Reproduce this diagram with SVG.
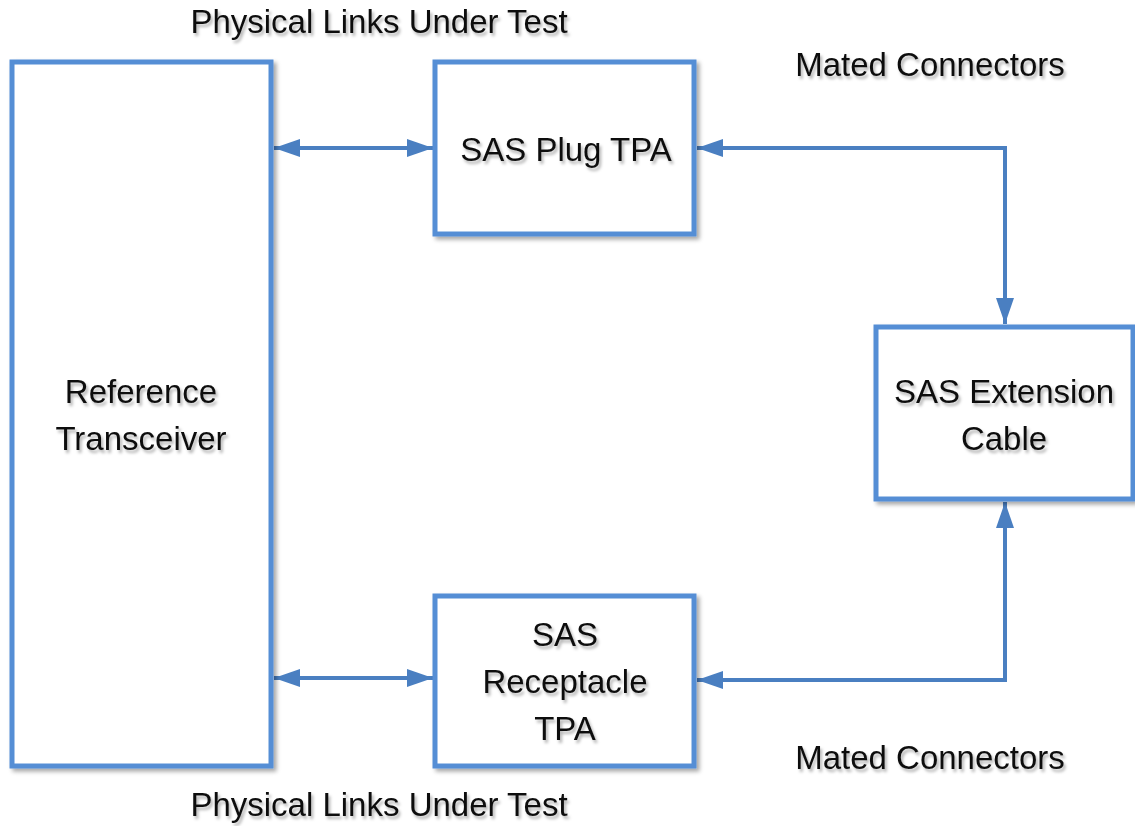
<svg xmlns="http://www.w3.org/2000/svg" width="1135" height="826" viewBox="0 0 1135 826">
<defs>
<filter id="sh" x="-10%" y="-10%" width="130%" height="130%">
<feGaussianBlur in="SourceAlpha" stdDeviation="2"/>
<feOffset dx="3" dy="3" result="b"/>
<feFlood flood-color="#000" flood-opacity="0.35"/>
<feComposite in2="b" operator="in"/>
<feMerge><feMergeNode/><feMergeNode in="SourceGraphic"/></feMerge>
</filter>
<filter id="tsh" x="-10%" y="-30%" width="130%" height="170%">
<feGaussianBlur in="SourceAlpha" stdDeviation="1.5"/>
<feOffset dx="2" dy="3" result="b"/>
<feFlood flood-color="#000" flood-opacity="0.3"/>
<feComposite in2="b" operator="in"/>
<feMerge><feMergeNode/><feMergeNode in="SourceGraphic"/></feMerge>
</filter>
<marker id="ah" viewBox="0 0 10 10" refX="10" refY="5" markerWidth="6.5" markerHeight="4.5" orient="auto-start-reverse" markerUnits="strokeWidth" preserveAspectRatio="none">
<path d="M0,0 L10,5 L0,10 z" fill="#4a7fc1"/>
</marker>
</defs>
<style>
.box{fill:#fff;stroke:#558ed5;stroke-width:5;filter:url(#sh)}
.t{font-family:"Liberation Sans",Arial,sans-serif;font-size:33px;fill:#111;text-anchor:middle;filter:url(#tsh)}
.c{fill:none;stroke:#4a7fc1;stroke-width:4}
</style>
<rect width="1135" height="826" fill="#fff"/>
<g id="connectors">
<line class="c" x1="274" y1="148" x2="433" y2="148" marker-start="url(#ah)" marker-end="url(#ah)"/>
<line class="c" x1="274" y1="678" x2="433" y2="678" marker-start="url(#ah)" marker-end="url(#ah)"/>
<polyline class="c" points="697,148 1005,148 1005,324" marker-start="url(#ah)" marker-end="url(#ah)"/>
<polyline class="c" points="697,680 1005,680 1005,502" marker-start="url(#ah)" marker-end="url(#ah)"/>
</g>
<g id="ref-transceiver">
<rect class="box" x="12" y="62" width="259" height="704"/>
<text class="t" x="141" y="403">Reference</text>
<text class="t" x="141" y="450">Transceiver</text>
</g>
<g id="plug-tpa">
<rect class="box" x="435" y="62" width="259" height="172"/>
<text class="t" x="566" y="161">SAS Plug TPA</text>
</g>
<g id="extension-cable">
<rect class="box" x="876" y="327" width="257" height="172"/>
<text class="t" x="1004" y="403">SAS Extension</text>
<text class="t" x="1004" y="450">Cable</text>
</g>
<g id="receptacle-tpa">
<rect class="box" x="435" y="596" width="259" height="170"/>
<text class="t" x="565" y="646">SAS</text>
<text class="t" x="565" y="693">Receptacle</text>
<text class="t" x="565" y="740">TPA</text>
</g>
<g id="labels">
<text class="t" x="379" y="33">Physical Links Under Test</text>
<text class="t" x="930" y="76">Mated Connectors</text>
<text class="t" x="930" y="769">Mated Connectors</text>
<text class="t" x="379" y="816">Physical Links Under Test</text>
</g>
</svg>
